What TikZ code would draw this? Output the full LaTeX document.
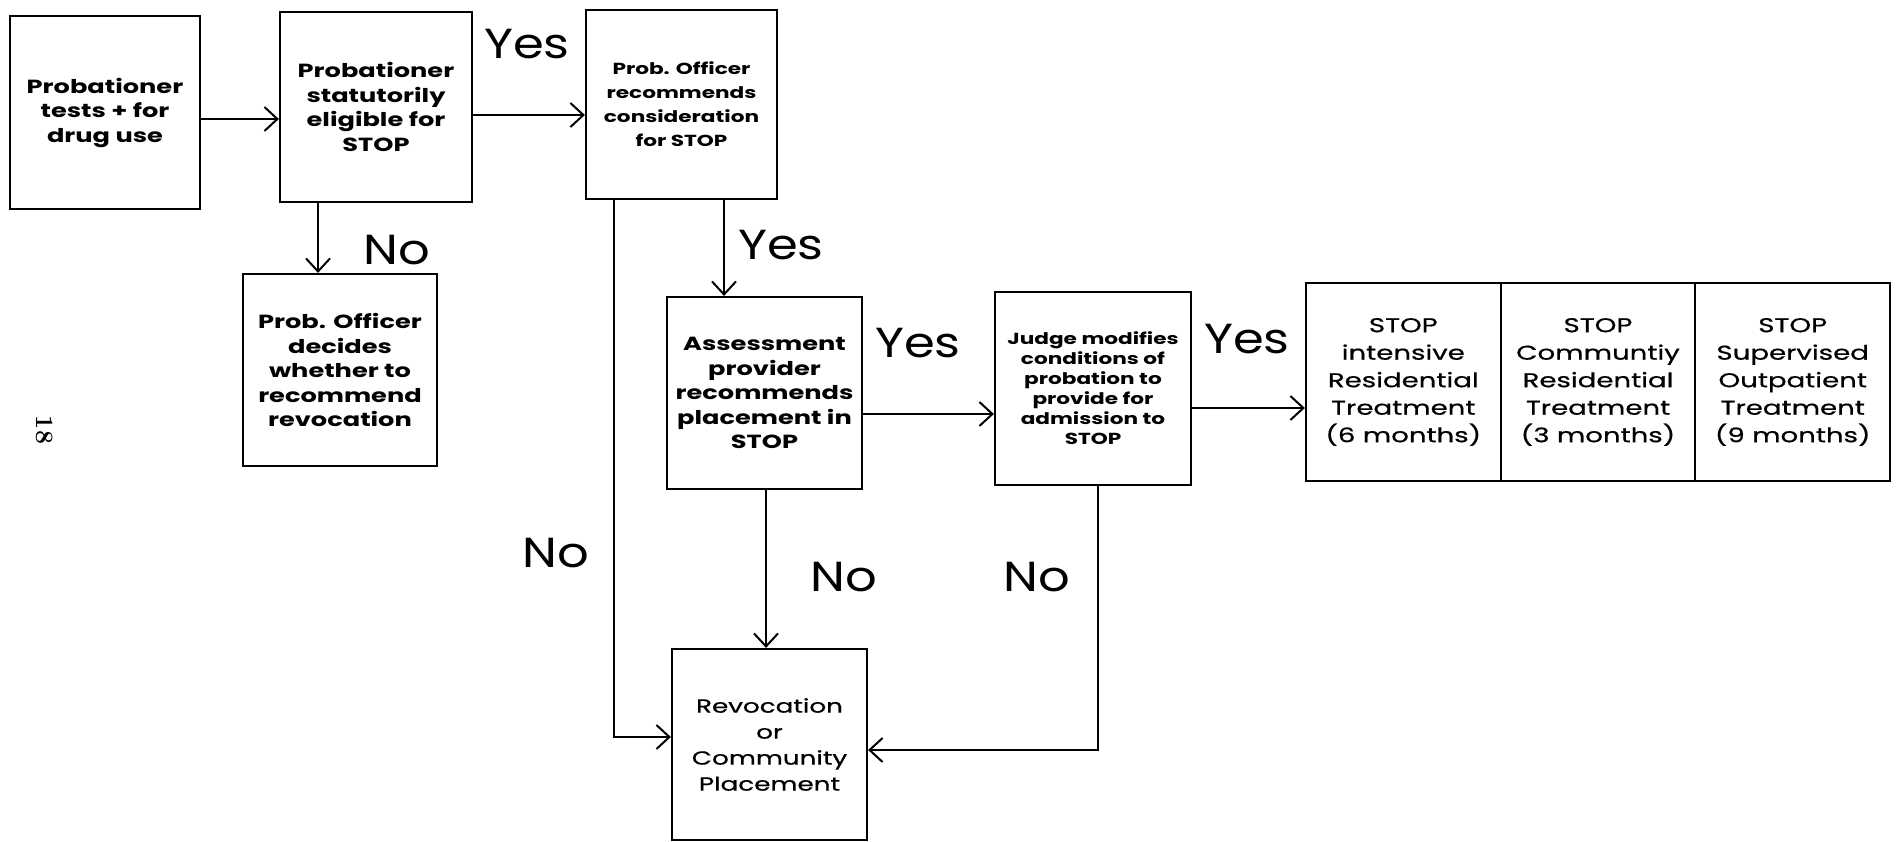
\documentclass[tikz,border=0pt]{standalone}
\usepackage{fontspec}
\newfontfamily\boxfont{Poppins}[FakeStretch=1.35]
\newfontfamily\medfont{Poppins}[FakeStretch=1.38,FakeBold=0.6]
\newfontfamily\labfont{Poppins}[FakeStretch=1.18]
\usetikzlibrary{arrows.meta}
\tikzset{
  box/.style={draw, line width=2.2pt, align=center, inner sep=0pt,
    font=\boxfont\bfseries\fontsize{19}{24.5}\selectfont},
  smallbox/.style={box, font=\boxfont\bfseries\fontsize{16}{24}\selectfont},
  judgebox/.style={box, font=\boxfont\bfseries\fontsize{16}{20}\selectfont},
  treat/.style={draw, line width=2.2pt, align=center, inner sep=0pt,
    minimum width=194.7pt, minimum height=198pt,
    font=\medfont\fontsize{20}{27.5}\selectfont},
  revbox/.style={box, font=\medfont\fontsize{19}{26}\selectfont},
  arr/.style={line width=2pt, -{Straight Barb[length=13pt,width=24pt,line width=2pt]}},
  lab/.style={font=\labfont\fontsize{42}{42}\selectfont, inner sep=0pt},
}
\begin{document}
\begin{tikzpicture}[x=1pt,y=1pt,yscale=-1]
\useasboundingbox (0,0) rectangle (1898,841);
% boxes
\node[box, minimum width=190pt, minimum height=193pt] (b1) at (105,112.5)
  {Probationer\\tests + for\\drug use};
\node[box, minimum width=192pt, minimum height=190pt] (b2) at (376,107)
  {Probationer\\statutorily\\eligible for\\STOP};
\node[smallbox, minimum width=191pt, minimum height=189pt] (b3) at (681.5,104.5)
  {Prob. Officer\\recommends\\consideration\\for STOP};
\node[box, minimum width=194pt, minimum height=192pt] (b4) at (340,370)
  {Prob. Officer\\decides\\whether to\\recommend\\revocation};
\node[box, minimum width=195pt, minimum height=192pt] (b5) at (764.5,393)
  {Assessment\\provider\\recommends\\placement in\\STOP};
\node[judgebox, minimum width=196pt, minimum height=193pt] (b6) at (1093,388.5)
  {Judge modifies\\conditions of\\probation to\\provide for\\admission to\\STOP};
\node[treat] (t1) at (1403.3,382)
  {STOP\\intensive\\Residential\\Treatment\\(6 months)};
\node[treat] (t2) at (1598,382)
  {STOP\\Communtiy\\Residential\\Treatment\\(3 months)};
\node[treat] (t3) at (1792.7,382)
  {STOP\\Supervised\\Outpatient\\Treatment\\(9 months)};
\node[revbox, minimum width=195pt, minimum height=191pt] (rev) at (769.5,744.5)
  {Revocation\\or\\Community\\Placement};
% helper coordinates
\coordinate (y119) at (0,119);
\coordinate (y115) at (0,115);
\coordinate (x318) at (318,0);
\coordinate (x724) at (724,0);
\coordinate (x614) at (614,0);
\coordinate (y737) at (0,737);
\coordinate (y414) at (0,414);
\coordinate (y408) at (0,408);
\coordinate (x766) at (766,0);
\coordinate (x1098) at (1098,0);
\coordinate (y750) at (0,750);
% connectors
\draw[arr] (b1.east |- y119) -- (b2.west |- y119);
\draw[arr] (b2.east |- y115) -- (b3.west |- y115);
\draw[arr] (b2.south -| x318) -- (b4.north -| x318);
\draw[arr] (b3.south -| x724) -- (b5.north -| x724);
\draw[arr] (b3.south -| x614) -- (x614 |- y737) -- (rev.west |- y737);
\draw[arr] (b5.east |- y414) -- (b6.west |- y414);
\draw[arr] (b6.east |- y408) -- (t1.west |- y408);
\draw[arr] (b5.south -| x766) -- (rev.north -| x766);
\draw[arr] (b6.south -| x1098) -- (x1098 |- y750) -- (rev.east |- y750);
% labels
\node[lab] (l1) at (527,44) {Yes};
\node[lab] (l2) at (397,250) {No};
\node[lab] (l3) at (781,245) {Yes};
\node[lab] (l4) at (556,553) {No};
\node[lab] (l5) at (918,343) {Yes};
\node[lab] (l6) at (1247,339) {Yes};
\node[lab] (l7) at (844,577) {No};
\node[lab] (l8) at (1037,577) {No};
\node[font=\bfseries\fontsize{25}{25}\selectfont, rotate=-90, inner sep=0pt] (pg) at (45,430) {18};
\end{tikzpicture}
\end{document}
